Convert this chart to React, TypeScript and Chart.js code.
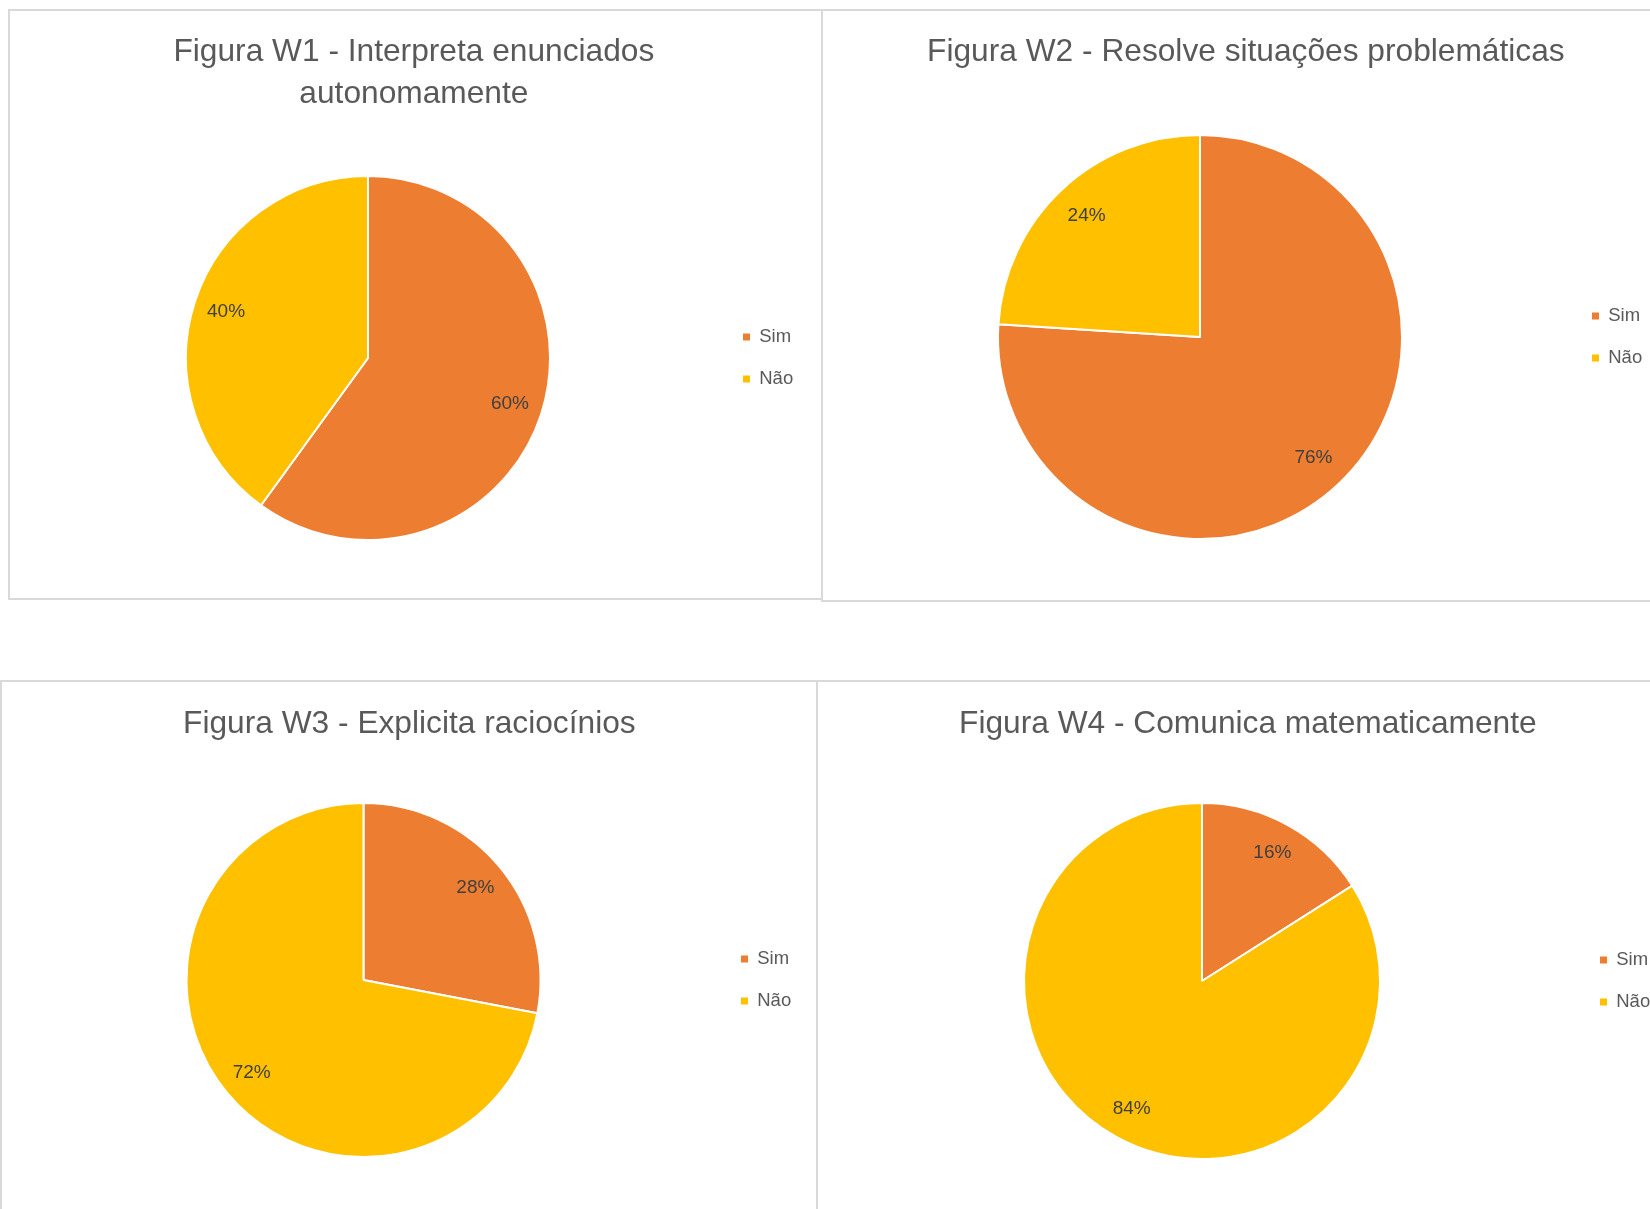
import React, { useEffect, useRef } from 'react';
import { Chart, registerables } from 'chart.js';

Chart.register(...registerables);

// ---- data ----
const categories = ['Sim', 'Não'];
const w1Values = [60, 40];
const w2Values = [76, 24];
const w3Values = [28, 72];
const w4Values = [16, 84];
const w1Title = ['Figura W1 - Interpreta enunciados', 'autonomamente'];
const w2Title = ['Figura W2 - Resolve situações problemáticas'];
const w3Title = ['Figura W3 - Explicita raciocínios'];
const w4Title = ['Figura W4 - Comunica matematicamente'];
const sliceColors = ['#ED7D31', '#FFC000'];

const FONT = "'Liberation Sans', Arial, sans-serif";
const LEGEND_EXTRA_WIDTH = 8;

// percentage labels placed inside each slice
const pieLabels = {
  id: 'pieLabels',
  afterDatasetsDraw(chart: any) {
    const ctx = chart.ctx;
    const meta = chart.getDatasetMeta(0);
    const data = chart.data.datasets[0].data;
    ctx.save();
    ctx.font = `19px ${FONT}`;
    ctx.fillStyle = '#404040';
    ctx.textAlign = 'center';
    ctx.textBaseline = 'middle';
    meta.data.forEach((arc: any, i: number) => {
      const { x, y, startAngle, endAngle, outerRadius } = arc.getProps(
        ['x', 'y', 'startAngle', 'endAngle', 'outerRadius'],
        true
      );
      const mid = (startAngle + endAngle) / 2;
      const d = outerRadius * 0.82;
      ctx.fillText(`${data[i]}%`, x + Math.cos(mid) * d, y + Math.sin(mid) * d);
    });
    ctx.restore();
  },
};

// adds a little empty room to the right of the legend items
const legendWidener = {
  id: 'legendWidener',
  beforeLayout(chart: any) {
    const lg = chart.legend;
    if (lg && !lg.__widened) {
      const orig = lg.fit.bind(lg);
      lg.fit = () => {
        orig();
        lg.width += LEGEND_EXTRA_WIDTH;
      };
      lg.__widened = true;
    }
  },
};

type PieProps = {
  values: number[];
  title: string[];
  left: number;
  top: number;
  width: number;
  height: number;
  padL: number;
  padR: number;
  padB: number;
  titleTop: number;
  titleBottom: number;
};

function PieChart(p: PieProps) {
  const ref = useRef<HTMLCanvasElement | null>(null);
  useEffect(() => {
    if (!ref.current) return;
    const chart = new Chart(ref.current, {
      type: 'doughnut',
      data: {
        labels: categories,
        datasets: [
          {
            data: p.values,
            backgroundColor: sliceColors,
            borderColor: '#ffffff',
            borderWidth: 2,
            hoverOffset: 0,
            offset: 0,
          },
        ],
      },
      options: {
        responsive: false,
        animation: false,
        events: [],
        cutout: 0,
        layout: { padding: { left: p.padL, right: p.padR, top: 0, bottom: p.padB } },
        plugins: {
          title: {
            display: true,
            text: p.title,
            color: '#595959',
            font: { family: FONT, size: 31.7, weight: 'normal', lineHeight: '42px' },
            padding: { top: p.titleTop, bottom: p.titleBottom },
          },
          legend: {
            position: 'right',
            align: 'center',
            fullSize: false,
            labels: {
              boxWidth: 7,
              boxHeight: 7,
              padding: 23.5,
              color: '#595959',
              font: { family: FONT, size: 18.5 },
              generateLabels: (c: any) =>
                (Chart as any).overrides.doughnut.plugins.legend.labels
                  .generateLabels(c)
                  .map((l: any) => ({ ...l, lineWidth: 0, strokeStyle: 'rgba(0,0,0,0)' })),
            },
          },
          tooltip: { enabled: false },
        },
      } as any,
      plugins: [pieLabels, legendWidener],
    });
    return () => chart.destroy();
  }, []);
  return (
    <canvas
      ref={ref}
      width={p.width}
      height={p.height}
      style={{
        position: 'absolute',
        left: p.left,
        top: p.top,
        width: p.width,
        height: p.height,
      }}
    />
  );
}

const panelStyle = (left: number, top: number, width: number, height: number): React.CSSProperties => ({
  position: 'absolute',
  left,
  top,
  width,
  height,
  boxSizing: 'border-box',
  border: '2px solid #d9d9d9',
  background: '#ffffff',
});

export default function App() {
  return (
    <div
      style={{
        position: 'absolute',
        left: 0,
        top: 0,
        width: 1650,
        height: 1209,
        overflow: 'hidden',
        background: '#ffffff',
      }}
    >
      <div style={panelStyle(8, 9, 815, 591)} />
      <div style={panelStyle(821, 9, 880, 593)} />
      <div style={panelStyle(0, 680, 819, 600)} />
      <div style={panelStyle(816, 680, 900, 600)} />

      <PieChart values={w1Values} title={w1Title} left={10} top={11} width={810} height={587}
        padL={6.5} padR={8.8} padB={57} titleTop={20.5} titleBottom={59.5} />
      <PieChart values={w2Values} title={w2Title} left={824} top={11} width={842} height={588}
        padL={7.5} padR={5.8} padB={59} titleTop={20.5} titleBottom={60.5} />
      <PieChart values={w3Values} title={w3Title} left={3} top={683} width={812} height={560}
        padL={6.5} padR={5.8} padB={85} titleTop={20} titleBottom={57} />
      <PieChart values={w4Values} title={w4Title} left={819} top={683} width={850} height={560}
        padL={8.5} padR={0.8} padB={83} titleTop={20} titleBottom={57} />
    </div>
  );
}
